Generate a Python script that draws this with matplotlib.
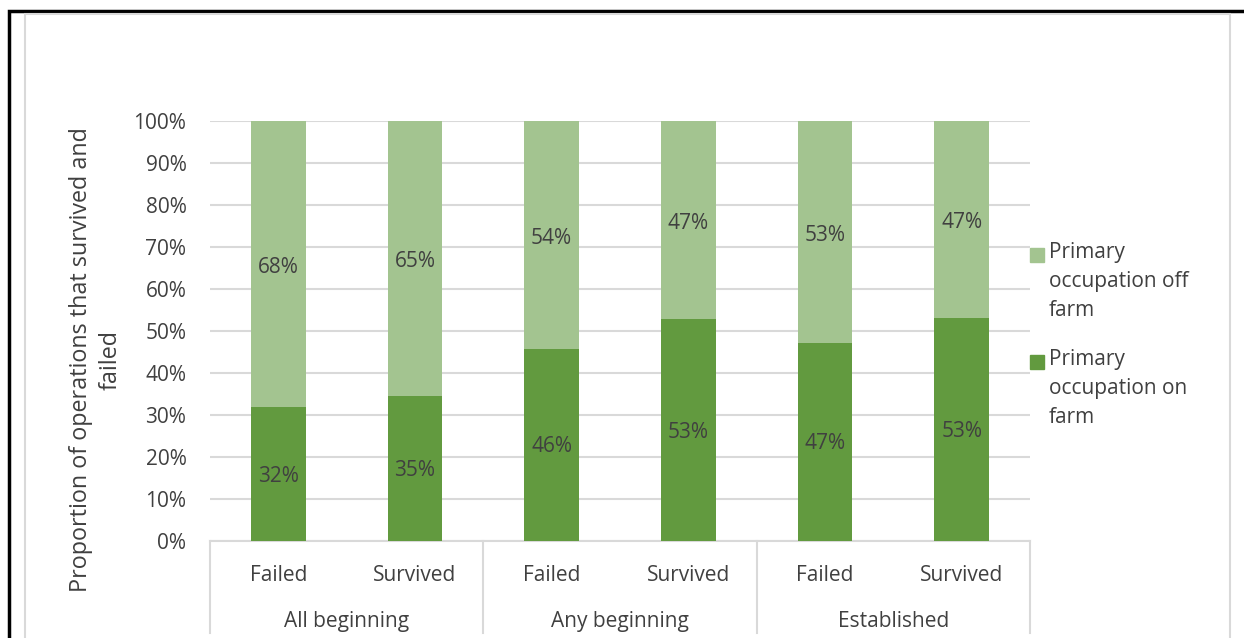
import matplotlib
matplotlib.use("Agg")
import matplotlib.pyplot as plt
import matplotlib.transforms as mtransforms
from matplotlib.patches import Rectangle
import numpy as np

plt.rcParams["font.family"] = ["Open Sans", "DejaVu Sans"]

# dados
grupos = ["All beginning", "Any beginning", "Established"]
status = ["Failed", "Survived"]
on_farm = [31.9, 34.6, 45.8, 52.9, 47.2, 53.2]
off_farm = [68.1, 65.4, 54.2, 47.1, 52.8, 46.8]
on_labels = ["32%", "35%", "46%", "53%", "47%", "53%"]
off_labels = ["68%", "65%", "54%", "47%", "53%", "47%"]
y_ticks = [0, 10, 20, 30, 40, 50, 60, 70, 80, 90, 100]
legenda = ["Primary\noccupation off\nfarm", "Primary\noccupation on\nfarm"]

cor_on = "#629A3F"
cor_off = "#A3C490"
cor_texto = "#404040"
cor_grade = "#D9D9D9"
fs = 15

W, H = 1244, 638
fig = plt.figure(figsize=(W / 100, H / 100), dpi=100)

# moldura preta e borda cinza do grafico
fig.patches.append(Rectangle((9 / W, -0.1), 1.2, 1.1 - 11 / H,
                             transform=fig.transFigure, fill=False,
                             edgecolor="black", linewidth=2.5))
fig.patches.append(Rectangle((25 / W, -0.1), (1230 - 25) / W, 1.1 - 14 / H,
                             transform=fig.transFigure, fill=False,
                             edgecolor=cor_grade, linewidth=1.5))

ax = fig.add_axes([210 / W, (H - 541) / H, 820 / W, 420 / H])

n = len(on_farm)
x = np.arange(n)
largura = 0.4

ax.bar(x, on_farm, largura, color=cor_on, zorder=3)
ax.bar(x, off_farm, largura, bottom=on_farm, color=cor_off, zorder=3)

for i in range(n):
    ax.text(x[i], on_farm[i] / 2 - 0.5, on_labels[i], ha="center", va="center",
            fontsize=fs, color=cor_texto, zorder=4)
    ax.text(x[i], on_farm[i] + off_farm[i] / 2 - 0.8, off_labels[i], ha="center",
            va="center", fontsize=fs, color=cor_texto, zorder=4)

ax.set_xlim(-0.5, n - 0.5)
ax.set_ylim(0, 100)
ax.set_yticks(y_ticks)
ax.set_yticklabels([f"{v}%" for v in y_ticks])
ax.tick_params(axis="y", length=0, pad=17, labelsize=fs, labelcolor=cor_texto)
ax.set_xticks([])
ax.yaxis.grid(True, color=cor_grade, linewidth=1.5, zorder=0)
for lado in ["top", "right", "left"]:
    ax.spines[lado].set_visible(False)
ax.spines["bottom"].set_color(cor_grade)
ax.spines["bottom"].set_linewidth(1.5)

# eixo de categorias em dois niveis
trans = mtransforms.blended_transform_factory(ax.transData, ax.transAxes)
for i in range(n):
    ax.text(x[i], -0.081, status[i % 2], transform=trans, ha="center", va="center",
            fontsize=fs, color=cor_texto)
for g, nome in enumerate(grupos):
    ax.text(2 * g + 0.5, -0.191, nome, transform=trans, ha="center", va="center",
            fontsize=fs, color=cor_texto)
for s in [-0.5, 1.5, 3.5, 5.5]:
    ax.plot([s, s], [0, -0.219], transform=trans, color=cor_grade,
            linewidth=1.5, clip_on=False)

# titulo do eixo y
fig.text(96 / W, 1 - 360 / H, "Proportion of operations that survived and\nfailed",
         rotation=90, ha="center", va="center", fontsize=16.8, color=cor_texto,
         linespacing=1.3)

# legenda feita a mao (quadrado alinhado com a primeira linha)
cores_leg = [cor_off, cor_on]
topos = [248, 355]
for cor, txt, topo in zip(cores_leg, legenda, topos):
    fig.patches.append(Rectangle((1030 / W, 1 - (topo + 14) / H), 14 / W, 14 / H,
                                 transform=fig.transFigure, color=cor))
    fig.text(1049 / W, 1 - (topo - 6) / H, txt, ha="left", va="top",
             fontsize=fs, color=cor_texto, linespacing=1.5)

fig.savefig("out.png", dpi=100)
